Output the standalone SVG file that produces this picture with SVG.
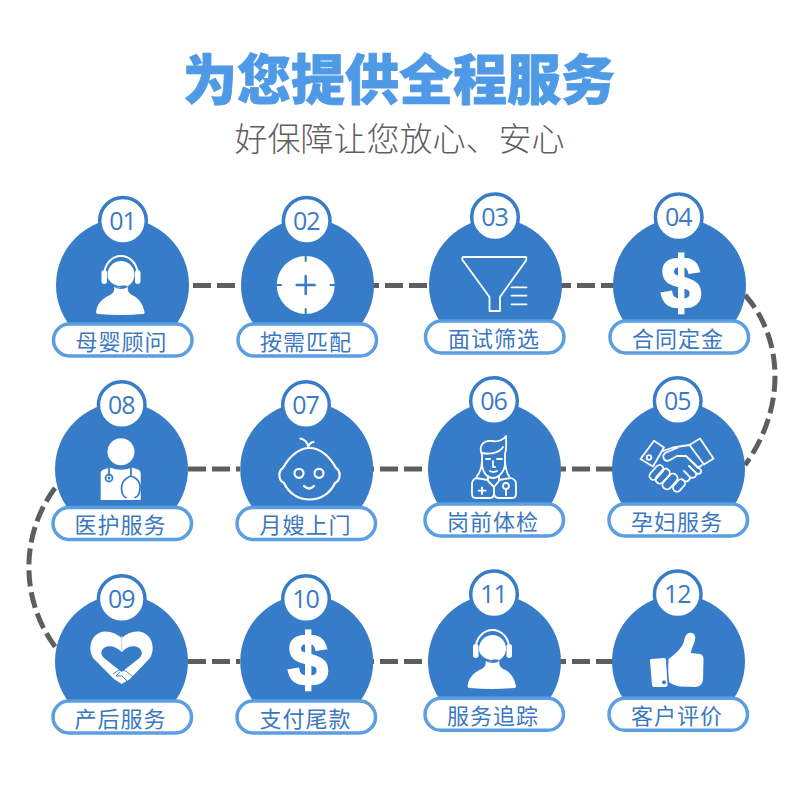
<svg xmlns="http://www.w3.org/2000/svg" width="800" height="800" viewBox="0 0 800 800">
<style>
.cjk{font-family:"Noto Sans CJK SC","Noto Sans",sans-serif}
.title{font-size:54px;font-weight:900;fill:#4f9ae6;stroke:#4f9ae6;stroke-width:.8;text-anchor:middle}
.sub{font-size:33px;font-weight:300;fill:#5f5f5f;text-anchor:middle}
.disc{fill:#367cc8}
.badge{fill:#fff;stroke:#367cc8;stroke-width:3.5}
.pill{fill:#fff;stroke:#5b9ee1;stroke-width:3.5}
.num{font-family:"Open Sans","Noto Sans",sans-serif;font-size:25px;fill:#3b7bc4;text-anchor:middle;letter-spacing:-1px}
.lab{font-size:22px;fill:#3b78bf;text-anchor:middle;letter-spacing:1px}
.dash{fill:none;stroke:#5e5e5e;stroke-width:5;stroke-dasharray:18 6}
.curve{fill:none;stroke:#5e5e5e;stroke-width:5;stroke-dasharray:16 6}
.w{fill:#fff}
.ol{fill:none;stroke:#fff;stroke-width:1.8;stroke-linecap:round;stroke-linejoin:round}
.bl{fill:none;stroke:#367cc8;stroke-linecap:round;stroke-linejoin:round}
.dollar{font-family:"Liberation Sans",Arial,sans-serif;font-size:72px;font-weight:700;fill:#fff;stroke:#fff;stroke-width:2.5;text-anchor:middle}
</style>
<defs>
<g id="headset">
<path d="M-17 14C-17-14 17-14 17 14" fill="none" stroke="#fff" stroke-width="2"/>
<rect x="-19.500" y="7" width="5.500" height="14" rx="2.700" class="w"/>
<rect x="14" y="7" width="5.500" height="14" rx="2.700" class="w"/>
<ellipse cx="0" cy="11.500" rx="13.500" ry="13.500" class="w"/>
<path d="M-13 17Q-9 24 1 24" stroke="#367cc8" stroke-width="1.600" fill="none"/>
<rect x="-.5" y="22.500" width="6.500" height="2.800" rx="1.400" fill="#367cc8"/>
<path d="M-7 24C-6 28-8 31-13 33C-19 36-24 41-25 49C-25 50-24 51-23 51Q0 53 22 51C23 51 24 50 23.500 49C22 41 18 36 13 33C8 31 6 28 7 24Q0 28-7 24Z" class="w"/>
</g>
</defs>
<rect width="800" height="800" fill="#fff"/>
<text class="cjk title" x="399" y="100">为您提供全程服务</text>
<text class="cjk sub" x="399.500" y="151">好保障让您放心、安心</text>
<g id="connectors">
<path class="dash" d="M193 285.500H241"/><path class="dash" d="M361 285.500H430"/><path class="dash" d="M553 285.500H620"/>
<path class="dash" d="M188 469H240"/><path class="dash" d="M356 469H430"/><path class="dash" d="M548 469H615"/>
<path class="dash" d="M188 661.500H240"/><path class="dash" d="M356 661.500H430"/><path class="dash" d="M548 661.500H615"/>
<path class="curve" d="M745 295C785 340 785 410 745 465"/>
<path class="curve" d="M55 488C20 535 20 600 56 648"/>
</g>
<g id="node-01"><circle class="disc" cx="122.500" cy="285" r="66.500"/><circle class="badge" cx="123" cy="220.700" r="23.300"/><text class="num" x="122.500" y="229.500">01</text>
<use href="#headset" x="121" y="263"/>
<rect class="pill" x="53.500" y="324" width="138.500" height="32" rx="16"/><text class="cjk lab" x="121.500" y="350">母婴顾问</text></g>
<g id="node-02"><circle class="disc" cx="307.500" cy="285" r="66.500"/><circle class="badge" cx="306.700" cy="220.700" r="23.300"/><text class="num" x="306.200" y="229.500">02</text>
<circle class="w" cx="305.700" cy="285" r="29"/><path class="bl" stroke-width="2.500" d="M296.700 285H314.700M305.700 276V294"/><path class="bl" stroke-width="2" d="M305.700 256V261M305.700 309V314M276.700 285H281M330.500 285H334.700"/>
<rect class="pill" x="238" y="324" width="138.500" height="32" rx="16"/><text class="cjk lab" x="306" y="350">按需匹配</text></g>
<g id="node-03"><circle class="disc" cx="495.500" cy="285" r="66.500"/><circle class="badge" cx="495" cy="217.300" r="23.300"/><text class="num" x="494.500" y="226">03</text>
<path class="ol" d="M463 257H526Q527 260 525 262L500 297V311H489.500V297L464 262Q461 259 463 257Z"/><path class="ol" stroke-width="1.800" d="M511.500 287.300H526.500M511.500 295.700H526.500M511.500 304.300H526.500"/>
<rect class="pill" x="425.500" y="321" width="138.500" height="32" rx="16"/><text class="cjk lab" x="494" y="346.500">面试筛选</text></g>
<g id="node-04"><circle class="disc" cx="679.500" cy="285" r="66.500"/><circle class="badge" cx="678.700" cy="217.300" r="23.300"/><text class="num" x="678.200" y="226">04</text>
<text class="dollar" x="681" y="308">$</text>
<rect class="pill" x="610" y="321" width="138.500" height="32" rx="16"/><text class="cjk lab" x="678" y="346.500">合同定金</text></g>
<g id="node-05"><circle class="disc" cx="678.500" cy="469" r="66.500"/><circle class="badge" cx="677.700" cy="401" r="23.300"/><text class="num" x="677.200" y="409.500">05</text>
<path class="ol" d="M654 440.700L664 447.500L653 466.500L640.500 459ZM700 438.500L713.500 458.500L704 464.500L689.500 445Z"/><circle class="ol" cx="649" cy="457.500" r="2.300"/>
<path class="ol" d="M663 451L673 447.500L689.500 445M702 465L698 468L686 456L677 456L670 460C665 463 661 457 665 453L678 447.500M686 456L701 470C702 473 699 475 696 473L689 466M696 473C697 477 693 479 690 477L684 471M690 477C690 481 686 483 683 480"/>
<g class="ol"><rect x="648" y="468.500" width="17" height="8" rx="4" transform="rotate(-48 656.500 472.500)"/><rect x="654" y="472" width="17" height="8.500" rx="4.200" transform="rotate(-48 662.500 476)"/><rect x="661" y="477" width="18" height="9" rx="4.500" transform="rotate(-48 670 481.500)"/><rect x="672" y="481.500" width="14" height="8" rx="4" transform="rotate(-48 679 485.500)"/></g>
<rect class="pill" x="609" y="504" width="138.500" height="32" rx="16"/><text class="cjk lab" x="677" y="529.500">孕妇服务</text></g>
<g id="node-06"><circle class="disc" cx="494.500" cy="469" r="66.500"/><circle class="badge" cx="494" cy="401" r="23.300"/><text class="num" x="493.500" y="409.500">06</text>
<path class="ol" d="M482 455C478 445 484 440 492 441C497 442 502 441 506 436C506 442 507 448 505 454V463C505 472 498 478 493 478C487 478 482 472 482 463ZM482 453C492 455 500 452 503 447M482 462C481 470 479 474 477 476M505 462C506 470 507 474 509 476"/>
<path class="ol" d="M486 459H490M497 459H502M493 461V467H495M490 471Q493 473 497 471"/>
<path class="ol" d="M488 476V481L494 487L499 481V476M488 480L476 478C474 479 472 481 472 484V494Q472 498 476 498H490C493 498 494 496 494 493V487M499 480L511 478C514 479 516 481 516 484V494Q516 498 512 498H499C496 498 494 496 494 493"/>
<path class="ol" stroke-width="2" d="M482 487.500V494M478.500 490.700H485.500"/><circle class="ol" cx="506" cy="486" r="3"/><path class="ol" d="M506 489V495"/>
<rect class="pill" x="425" y="504" width="138.500" height="32" rx="16"/><text class="cjk lab" x="493" y="529.500">岗前体检</text></g>
<g id="node-07"><circle class="disc" cx="306.700" cy="469" r="66.500"/><circle class="badge" cx="306" cy="405" r="23.300"/><text class="num" x="305.500" y="413.500">07</text>
<g class="ol" style="stroke-width:2.200"><path d="M283 468C290 455 300 448 309.500 448C319 448 329 455 336 468C341 471 341 480 335 483C330 494 320 499.500 309.500 499.500C299 499.500 289 494 284 483C278 480 278 471 283 468Z"/>
<circle cx="299" cy="473.300" r="4.500"/><circle cx="319" cy="473.300" r="4.500"/>
<path d="M304 486Q309 491 314 486M300.500 438.500Q307 440 308.500 447M308.500 447Q309 443 313.500 442"/></g>
<rect class="pill" x="237" y="507.500" width="138.500" height="32" rx="16"/><text class="cjk lab" x="305.500" y="533">月嫂上门</text></g>
<g id="node-08"><circle class="disc" cx="121.500" cy="469" r="66.500"/><circle class="badge" cx="121.700" cy="405" r="23.300"/><text class="num" x="121.200" y="413.500">08</text>
<circle class="w" cx="121" cy="451.700" r="13.500"/>
<path class="w" d="M110 467.500Q121 472 132 467.500L138 469.500Q140.700 470.500 140.700 473V500H100.700V473Q100.700 470.500 104 469.500Z"/>
<path class="bl" stroke-width="1.800" d="M109 466V475M131 466V476C124 478 121 484 121.500 489C122 494 124 497 126 497.500M131 476C138 478 141 484 140 489C139.500 494 137 497 135 497.500"/>
<circle class="bl" stroke-width="1.800" cx="109" cy="478" r="3.500"/><circle fill="#367cc8" cx="109" cy="478" r="1.500"/>
<rect class="pill" x="53" y="507.500" width="138.500" height="32" rx="16"/><text class="cjk lab" x="120.500" y="533">医护服务</text></g>
<g id="node-09"><circle class="disc" cx="121.500" cy="661.500" r="66.500"/><circle class="badge" cx="121.700" cy="599" r="23.300"/><text class="num" x="121.200" y="607.500">09</text>
<path class="w" d="M121.700 638C115 632 106 630 99 633C90 637 88 650 93 658L114 679L121.700 684L130 679L150 658C155 650 153 637 144 633C137 630 128 632 121.700 638Z"/>
<path class="disc" d="M121.700 652C116 646 108 645 104 648C100 651 101 655 104 658L121.700 672L139.500 658C142.500 655 143 651 139 648C135 645 127 646 121.700 652Z"/>
<path fill="none" stroke="#bcd5ee" stroke-width="1" d="M121.700 636V651"/>
<path fill="none" stroke="#367cc8" stroke-width=".9" d="M113 674L119 670L126 671L133 677M120 672L116 676L122 676L128 682M118 683L122 687M114 680L117 684"/>
<rect class="pill" x="53" y="701" width="138.500" height="32" rx="16"/><text class="cjk lab" x="120.500" y="726.500">产后服务</text></g>
<g id="node-10"><circle class="disc" cx="306.700" cy="661.500" r="66.500"/><circle class="badge" cx="306" cy="599" r="23.300"/><text class="num" x="305.500" y="607.500">10</text>
<text class="dollar" x="308" y="685">$</text>
<rect class="pill" x="237" y="701" width="138.500" height="32" rx="16"/><text class="cjk lab" x="305.500" y="726.500">支付尾款</text></g>
<g id="node-11"><circle class="disc" cx="494.500" cy="661.500" r="66.500"/><circle class="badge" cx="494" cy="594.300" r="23.300"/><text class="num" x="493.500" y="602.800">11</text>
<use href="#headset" x="492.500" y="637"/>
<rect class="pill" x="425" y="698.300" width="138.500" height="32" rx="16"/><text class="cjk lab" x="493" y="723.800">服务追踪</text></g>
<g id="node-12"><circle class="disc" cx="678.500" cy="661.500" r="66.500"/><circle class="badge" cx="677.700" cy="594.300" r="23.300"/><text class="num" x="677.200" y="602.800">12</text>
<path class="w" d="M651 659L664 658Q666 658 666 660L667.500 685Q667.500 687 665.500 687L654 687Q652 687 652 685L650 661Q650 659 651 659Z"/><circle fill="#367cc8" cx="664" cy="682.300" r="2"/>
<path class="w" d="M668.500 659C674 655 680 650 683 644C685 639 685 634 689 633C694 632 696 636 695 640C694 645 691 649 691 653L700 654Q704 655 703.500 660L703 680Q702 686 696 687L680 686.500Q673 685 669 682Q667.500 670 668.500 659Z"/>
<rect class="pill" x="609" y="698.300" width="138.500" height="32" rx="16"/><text class="cjk lab" x="677" y="723.800">客户评价</text></g>
</svg>
